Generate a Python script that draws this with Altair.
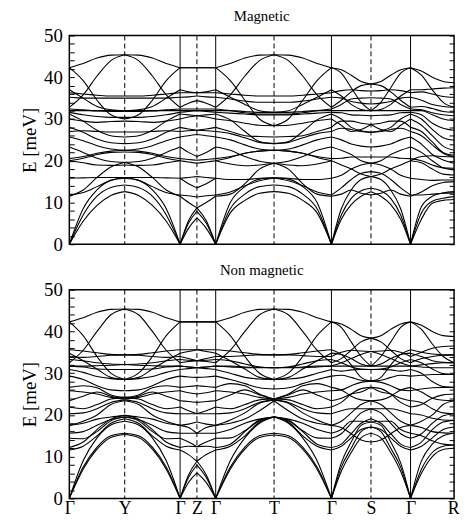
import altair as alt
import pandas as pd

# High-symmetry points along the path (path coordinate) and their labels
POS = [0, 56, 112, 129, 148, 207, 265, 305, 345, 389]
LAB = ["Γ", "Y", "Γ", "Z", "Γ", "T", "Γ", "S", "Γ", "R"]
YTICKS = list(range(0, 51, 2))
TITLES = ["Magnetic", "Non magnetic"]

# Magnetic: bands per segment (values in meV, evenly spaced along each segment)
MAG_GY = [
    [0, 5.5, 9.3, 11.7, 12.6], [0, 7.0, 11.5, 13.6, 14.2], [0, 8.5, 13.0, 15.3, 16.0],
    [11.5, 13.0, 16.0, 18.5, 19.6], [11.8, 12.4, 13.8, 15.3, 15.8], [15.8, 15.9, 16.0, 16.0, 16.0],
    [20.0, 19.5, 19.0, 18.9, 19.0], [20.5, 21.0, 21.8, 22.3, 22.5], [23.3, 22.0, 20.6, 19.8, 19.6],
    [25.7, 24.8, 23.6, 22.8, 22.5], [27.0, 27.2, 27.0, 26.9, 26.9], [28.0, 26.8, 25.2, 24.3, 24.1],
    [30.0, 29.5, 29.2, 29.4, 29.5], [31.2, 29.5, 27.3, 26.0, 25.7], [31.6, 31.0, 30.6, 30.4, 30.4],
    [32.0, 32.0, 32.0, 32.0, 32.0], [32.4, 32.2, 31.9, 31.8, 31.8], [32.8, 35.8, 40.3, 44.0, 45.4],
    [35.2, 35.0, 35.0, 35.0, 35.0], [36.3, 36.0, 35.7, 35.5, 35.5], [37.0, 35.0, 33.0, 32.2, 32.0],
    [42.3, 39.2, 34.5, 31.0, 30.0], [42.3, 43.3, 44.6, 45.3, 45.4], [20.0, 20.6, 21.5, 22.0, 22.1],
]
MAG_GZ = [
    [0, 3.8, 6.3], [0, 5.0, 7.9], [0, 5.6, 8.7], [11.5, 10.0, 8.7], [11.8, 11.6, 11.3],
    [15.8, 14.5, 13.5], [15.8, 16.0, 16.2], [20.0, 19.7, 19.4], [20.5, 20.3, 20.1],
    [23.3, 22.0, 21.0], [25.7, 26.0, 26.3], [27.0, 27.2, 27.3], [28.0, 27.6, 27.3],
    [30.0, 30.5, 30.8], [31.2, 31.0, 30.8], [31.6, 31.8, 32.0], [32.0, 32.0, 32.0],
    [32.4, 32.4, 32.4], [32.8, 33.8, 34.4], [35.2, 35.3, 35.5], [36.3, 36.3, 36.3],
    [37.0, 36.5, 36.3], [42.3, 42.3, 42.3], [42.3, 42.3, 42.3],
]
MAG_GT = [
    [0, 7.5, 10.5, 12.2, 12.6], [0, 8.5, 12.0, 13.8, 14.2], [0, 10.0, 13.8, 15.6, 15.9],
    [11.5, 12.0, 14.5, 18.0, 19.4], [11.8, 12.5, 14.0, 15.2, 15.8], [15.8, 15.5, 15.5, 15.8, 15.9],
    [20.0, 19.2, 18.8, 19.0, 19.4], [20.5, 21.0, 21.8, 22.3, 22.5], [23.3, 22.5, 21.0, 19.9, 19.4],
    [25.7, 25.0, 23.8, 22.8, 22.5], [27.0, 26.5, 25.5, 24.4, 24.1], [28.0, 27.0, 26.0, 25.8, 25.7],
    [30.0, 29.6, 29.0, 28.5, 28.4], [31.2, 29.8, 27.0, 24.6, 24.1], [31.6, 31.4, 31.2, 31.0, 31.0],
    [32.0, 32.0, 31.8, 31.6, 31.6], [32.4, 32.0, 31.5, 31.2, 31.2], [32.8, 35.8, 40.3, 44.0, 45.4],
    [35.2, 34.8, 34.3, 34.0, 34.0], [36.3, 36.0, 35.7, 35.5, 35.5], [37.0, 35.2, 33.5, 32.0, 31.6],
    [42.3, 39.2, 34.5, 30.0, 28.4], [42.3, 43.3, 44.6, 45.3, 45.4], [20.0, 20.8, 21.8, 22.3, 22.5],
]
MAG_GS = [
    [0, 6.0, 9.5, 11.5, 12.6], [0, 7.0, 11.0, 12.8, 13.4], [0, 8.5, 13.0, 15.5, 16.2],
    [11.5, 12.0, 13.0, 12.2, 11.8], [11.8, 13.5, 15.5, 17.0, 17.4], [15.8, 16.5, 18.0, 19.0, 19.4],
    [20.5, 20.6, 20.9, 20.9, 20.9], [20.0, 19.0, 18.0, 16.8, 16.2], [23.3, 22.5, 21.5, 20.0, 19.4],
    [25.7, 25.0, 24.0, 23.5, 23.3], [27.0, 27.8, 27.5, 27.0, 26.8], [28.0, 29.5, 29.5, 29.0, 28.7],
    [30.0, 28.5, 27.0, 27.5, 28.7], [31.2, 30.0, 28.0, 27.2, 26.8], [31.6, 31.5, 31.0, 30.9, 30.8],
    [32.0, 32.0, 32.0, 32.0, 32.0], [32.4, 33.5, 34.8, 35.0, 35.1], [32.8, 34.5, 36.5, 38.0, 38.4],
    [35.2, 35.0, 34.2, 33.8, 33.6], [36.3, 36.8, 37.0, 36.8, 36.7], [37.0, 35.5, 33.5, 32.3, 32.0],
    [42.3, 41.8, 40.5, 39.0, 38.4], [42.3, 41.0, 37.5, 34.0, 32.0],
]
MAG_GR = [
    [0, 6.0, 9.8, 10.5, 10.7], [0, 7.5, 10.3, 11.0, 11.4], [0, 9.0, 11.5, 12.3, 12.6],
    [11.5, 12.5, 14.0, 14.8, 15.0], [11.8, 11.8, 12.0, 12.2, 12.3], [15.8, 15.5, 15.3, 15.4, 15.4],
    [20.0, 19.5, 18.0, 16.8, 16.6], [20.5, 20.0, 19.0, 18.3, 18.2], [23.3, 22.0, 20.0, 18.3, 17.8],
    [25.7, 24.0, 21.5, 20.2, 19.4], [27.0, 26.0, 23.8, 21.8, 20.9], [28.0, 27.0, 24.5, 22.0, 21.3],
    [30.0, 28.5, 26.0, 23.5, 22.5], [31.2, 30.0, 27.5, 25.5, 24.9], [31.6, 31.0, 29.0, 27.8, 27.3],
    [32.0, 32.0, 31.0, 30.0, 29.6], [32.4, 32.2, 31.5, 31.0, 30.8], [32.8, 33.0, 32.5, 31.8, 31.6],
    [35.2, 34.5, 33.5, 33.0, 32.8], [36.3, 36.5, 36.0, 35.4, 35.2], [37.0, 37.0, 37.2, 37.4, 37.5],
    [42.3, 41.5, 40.0, 39.0, 38.7], [42.3, 40.5, 37.0, 34.0, 32.8], [20.0, 21.0, 21.2, 21.0, 20.9],
]

# Non magnetic
NM_GY = [
    [0, 7.0, 11.8, 14.6, 15.3], [0, 7.5, 12.3, 15.0, 15.6], [0, 9.0, 14.5, 17.6, 18.5],
    [11.6, 12.5, 15.0, 18.0, 19.1], [12.2, 13.5, 16.5, 19.0, 19.9], [14.4, 14.3, 16.0, 18.6, 19.5],
    [15.6, 16.0, 17.5, 18.9, 19.5], [17.5, 18.5, 20.0, 22.5, 23.4], [17.5, 18.0, 19.0, 19.5, 19.9],
    [20.3, 20.5, 21.5, 23.0, 23.6], [21.9, 21.5, 22.5, 23.8, 24.2], [23.4, 24.5, 25.5, 24.5, 23.8],
    [25.8, 25.5, 25.0, 24.2, 23.8], [26.6, 27.0, 26.5, 24.8, 24.2], [29.3, 28.5, 27.0, 26.0, 25.8],
    [30.9, 30.2, 29.2, 28.7, 28.5], [31.7, 31.5, 31.0, 30.9, 30.9], [31.7, 31.7, 31.8, 31.9, 32.1],
    [32.5, 35.5, 40.0, 44.0, 45.4], [33.3, 33.0, 32.5, 32.2, 32.1], [34.0, 33.8, 34.0, 34.3, 34.4],
    [34.8, 33.0, 31.0, 29.0, 28.5], [35.6, 35.3, 34.9, 34.5, 34.4], [42.3, 39.0, 34.0, 30.0, 28.5],
    [42.3, 43.3, 44.6, 45.3, 45.4],
]
NM_GZ = [
    [0, 3.8, 6.1], [0, 5.0, 8.0], [0, 5.6, 8.9], [11.6, 10.5, 8.9], [12.2, 12.5, 12.4],
    [14.4, 13.5, 12.4], [15.6, 15.6, 15.6], [17.5, 17.8, 18.3], [17.5, 17.0, 15.6],
    [20.3, 20.3, 20.3], [21.9, 21.0, 20.3], [23.4, 23.2, 23.0], [25.8, 25.3, 25.0],
    [26.6, 26.8, 27.0], [29.3, 29.1, 29.0], [30.9, 31.1, 31.3], [31.7, 31.5, 31.3],
    [31.7, 31.5, 31.3], [32.5, 32.8, 33.0], [33.3, 33.1, 33.0], [34.0, 33.5, 33.0],
    [34.8, 35.2, 35.6], [35.6, 35.6, 35.6], [42.3, 42.3, 42.3], [42.3, 42.3, 42.3],
]
NM_GT = [
    [0, 7.0, 11.8, 14.6, 15.2], [0, 7.5, 12.3, 15.0, 15.6], [0, 9.0, 14.5, 18.0, 19.5],
    [11.6, 12.5, 15.0, 18.3, 19.5], [12.2, 13.0, 16.0, 18.8, 19.5], [14.4, 14.5, 16.2, 18.6, 19.5],
    [15.6, 16.5, 18.0, 19.0, 19.5], [17.5, 18.8, 20.5, 22.8, 23.6], [17.5, 18.0, 19.0, 21.0, 23.4],
    [20.3, 20.5, 21.5, 23.0, 23.6], [21.9, 21.5, 22.5, 23.6, 23.8], [23.4, 24.8, 26.0, 24.8, 23.8],
    [25.8, 25.5, 25.0, 24.2, 23.8], [26.6, 27.5, 27.0, 25.0, 23.8], [29.3, 28.5, 27.5, 26.5, 26.2],
    [30.9, 30.0, 29.0, 28.6, 28.5], [31.7, 31.5, 31.3, 31.3, 31.3], [31.7, 31.7, 31.5, 31.4, 31.3],
    [32.5, 35.5, 40.0, 44.0, 45.4], [33.3, 33.0, 32.2, 31.5, 31.3], [34.0, 34.0, 34.2, 34.4, 34.4],
    [34.8, 33.0, 31.0, 29.0, 28.5], [35.6, 35.3, 34.9, 34.5, 34.4], [42.3, 39.0, 34.0, 30.0, 28.5],
    [42.3, 43.3, 44.6, 45.3, 45.4],
]
NM_GS = [
    [0, 6.5, 11.0, 14.5, 15.6], [0, 7.5, 12.0, 16.0, 17.1], [0, 8.5, 13.5, 17.5, 18.3],
    [12.2, 13.0, 15.5, 18.0, 19.1], [11.6, 12.5, 14.5, 16.5, 17.1], [14.4, 15.5, 18.0, 20.5, 21.5],
    [15.6, 16.5, 18.5, 18.5, 18.3], [17.5, 17.0, 15.5, 14.0, 13.5], [17.5, 18.5, 20.5, 22.5, 23.4],
    [20.3, 21.0, 21.5, 21.5, 21.5], [21.9, 23.0, 25.0, 26.3, 26.6], [23.4, 24.0, 25.0, 25.5, 26.6],
    [25.8, 26.0, 27.0, 27.8, 28.1], [26.6, 26.0, 24.5, 23.6, 23.4], [29.3, 29.5, 29.0, 28.3, 28.1],
    [30.9, 30.5, 30.8, 30.9, 30.9], [31.7, 31.7, 31.7, 31.7, 31.7], [31.7, 32.5, 33.5, 34.5, 35.2],
    [32.5, 33.5, 35.5, 37.5, 38.4], [33.3, 32.5, 31.5, 31.0, 30.9], [34.0, 35.0, 35.5, 35.3, 35.2],
    [34.8, 34.5, 33.5, 32.2, 31.7], [35.6, 34.5, 32.0, 29.0, 28.1], [42.3, 41.8, 40.5, 39.0, 38.4],
    [42.3, 41.0, 37.5, 34.0, 31.7],
]
NM_GR = [
    [0, 6.0, 10.0, 11.7, 12.0], [0, 7.0, 11.0, 12.5, 12.8], [0, 9.0, 13.0, 15.0, 15.6],
    [11.6, 12.5, 14.5, 16.5, 17.1], [12.2, 13.5, 16.5, 18.3, 18.7], [14.4, 15.5, 18.0, 19.8, 20.3],
    [15.6, 15.0, 13.8, 13.0, 12.8], [17.5, 17.0, 16.0, 15.7, 15.6], [17.5, 18.5, 20.0, 22.5, 23.4],
    [20.3, 20.0, 19.2, 18.8, 18.7], [21.9, 22.5, 24.0, 24.8, 25.0], [23.4, 23.0, 21.5, 20.5, 20.3],
    [25.8, 26.2, 26.5, 26.6, 26.6], [26.6, 25.5, 24.0, 23.5, 23.4], [29.3, 29.5, 29.7, 29.7, 29.7],
    [30.9, 30.0, 28.0, 26.8, 26.6], [31.7, 31.5, 31.3, 31.3, 31.3], [31.7, 32.0, 32.3, 32.5, 32.5],
    [32.5, 33.5, 34.0, 34.3, 34.4], [33.3, 32.5, 31.0, 29.9, 29.7], [34.0, 35.0, 36.0, 36.4, 36.5],
    [34.8, 34.0, 33.0, 32.6, 32.5], [35.6, 35.0, 34.6, 34.4, 34.4], [42.3, 41.5, 40.0, 39.0, 38.8],
    [42.3, 40.5, 37.0, 34.0, 32.5],
]

MAG = {"GY": MAG_GY, "GZ": MAG_GZ, "GT": MAG_GT, "GS": MAG_GS, "GR": MAG_GR}
NM = {"GY": NM_GY, "GZ": NM_GZ, "GT": NM_GT, "GS": NM_GS, "GR": NM_GR}

# path segments: (from point, to point, band set, traversed backwards)
SEGMENTS = [(0, 1, "GY", False), (1, 2, "GY", True), (2, 3, "GZ", False), (3, 4, "GZ", True),
            (4, 5, "GT", False), (5, 6, "GT", True), (6, 7, "GS", False), (7, 8, "GS", True),
            (8, 9, "GR", False)]


def build(bands):
    rows = []
    for si, (a, b, key, rev) in enumerate(SEGMENTS):
        x0, x1 = POS[a], POS[b]
        for bi, vals in enumerate(bands[key]):
            v = vals[::-1] if rev else vals
            n = len(v)
            for i, e in enumerate(v):
                rows.append({"x": x0 + (x1 - x0) * i / (n - 1), "e": e, "id": f"{si}-{bi}", "k": i})
    return pd.DataFrame(rows)


sym = pd.DataFrame({"pos": POS[1:-1], "lab": LAB[1:-1]})
sym["gamma"] = sym["lab"] == "Γ"

SERIF = "Liberation Serif"
W, H = 389, 211
label_expr = " : ".join(f"datum.value == {p} ? '{l}'" for p, l in zip(POS, LAB)) + " : ''"

XSCALE = alt.Scale(domain=[POS[0], POS[-1]], nice=False, zero=False)
YSCALE = alt.Scale(domain=[0, 50], nice=False, zero=True)


def panel(df, title, show_x):
    xaxis = alt.Axis(values=POS, labelExpr=label_expr, tickSize=0, domain=False, grid=False,
                     title=None, labelFontSize=18, labelFont=SERIF, labelColor="black",
                     labelPadding=1, labelFlush=True, labelFlushOffset=5, labelOverlap=False,
                     labelBound=False) if show_x else None
    lines = alt.Chart(df).mark_line(color="black", strokeWidth=1.1, interpolate="monotone", clip=True).encode(
        x=alt.X("x:Q", scale=XSCALE, axis=xaxis),
        y=alt.Y("e:Q", scale=YSCALE,
                axis=alt.Axis(values=YTICKS, labelExpr="datum.value % 10 == 0 ? datum.label : ''",
                              tickSize=5, offset=-5, domain=False, grid=False, title="E [meV]",
                              labelPadding=7, labelFontSize=19, labelFont=SERIF, labelColor="black",
                              titleFont=SERIF, titleFontSize=19, titleFontWeight="normal",
                              titleColor="black", tickColor="black", titlePadding=4)),
        detail="id:N", order="k:Q",
    )
    solid = alt.Chart(sym).transform_filter("datum.gamma").mark_rule(color="black", strokeWidth=1).encode(
        x=alt.X("pos:Q", scale=XSCALE, axis=xaxis),
        y=alt.YDatum(0, scale=YSCALE,
                     axis=alt.Axis(orient="right", values=YTICKS, labels=False, tickSize=5, offset=-5,
                                   domain=False, grid=False, title=None, tickColor="black")),
        y2=alt.Y2Datum(50),
    )
    dashed = alt.Chart(sym).transform_filter("!datum.gamma").mark_rule(
        color="black", strokeWidth=1, strokeDash=[5, 3]).encode(
        x=alt.X("pos:Q", scale=XSCALE, axis=xaxis),
    )
    head = alt.Chart(pd.DataFrame({"t": [title]})).mark_text(
        font=SERIF, fontSize=15, color="black", align="center", baseline="middle").encode(
        x=alt.value(W / 2), y=alt.value(-20), text="t:N")
    return alt.layer(lines, dashed, solid, head).resolve_scale(y="independent").resolve_axis(
        y="independent").properties(width=W, height=H)


top = panel(build(MAG), TITLES[0], False)
bottom = panel(build(NM), TITLES[1], True)

chart = alt.vconcat(top, bottom, spacing=7).properties(
    padding={"left": 12, "top": -3, "right": 0, "bottom": 0}
).configure_view(stroke="black", strokeWidth=1.5)

chart.save("out.html", embed_options={"renderer": "svg", "actions": False})
